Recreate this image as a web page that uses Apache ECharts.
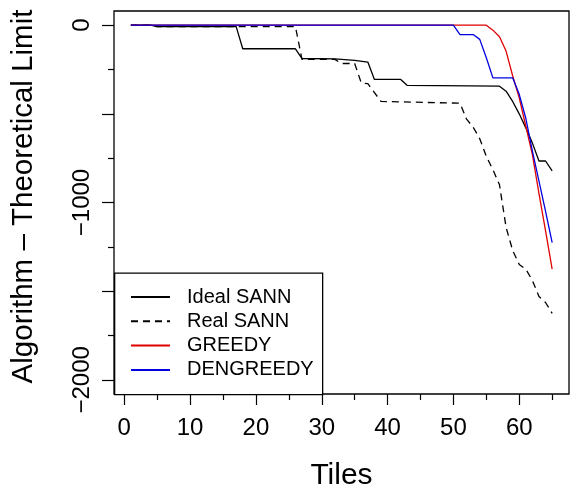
<!DOCTYPE html>
<html>
<head>
<meta charset="utf-8">
<script src="https://cdn.jsdelivr.net/npm/echarts@6/dist/echarts.min.js"></script>
<style>
html,body{margin:0;padding:0;background:#fff;}
#chart{width:578px;height:489px;}
</style>
</head>
<body>
<div id="chart"></div>
<script>
// ---- data ----
const seriesNames = ['Ideal SANN', 'Real SANN', 'GREEDY', 'DENGREEDY'];

const idealTiles = [1, 4, 5, 17, 18, 26, 27, 32, 35, 37, 38, 42, 43, 57, 58, 59, 60, 61, 62, 63, 64, 65];
const idealVals  = [0, 0, -8, -8, -133, -133, -188, -190, -199, -208, -306, -306, -340, -344, -372, -430, -500, -579, -665, -766, -766, -822];

const realTiles = [1, 4, 5, 26, 27, 32, 33, 35, 36, 37, 39, 51, 52, 53, 54, 55, 56, 57, 58, 59, 60, 61, 62, 63, 64, 65];
const realVals  = [0, 0, -8, -8, -193, -193, -216, -216, -325, -330, -430, -440, -530, -575, -640, -740, -815, -900, -1140, -1270, -1350, -1376, -1440, -1530, -1564, -1625];

const greedyTiles = [1, 55, 56, 57, 58, 59, 60, 61, 62, 63, 64, 65];
const greedyVals  = [0, 0, -28, -65, -146, -285, -410, -570, -730, -950, -1160, -1376];

const dengreedyTiles = [1, 50, 51, 53, 54, 55, 56, 59, 60, 61, 62, 63, 64, 65];
const dengreedyVals  = [0, 0, -53, -53, -80, -184, -297, -297, -390, -525, -710, -880, -1050, -1226];

const xMajorTicks = [0, 10, 20, 30, 40, 50, 60];
const xMinorTicks = [5, 15, 25, 35, 45, 55, 65];
const yLabelTicks = [-2000, -1000, 0];
const yMajorTicks = [-2000, -1500, -1000, -500, 0];
const yMinorTicks = [-1750, -1250, -750, -250];

const xTitle = 'Tiles';
const yTitle = 'Algorithm \u2013 Theoretical Limit';

// ---- chart ----
function pairs(xs, ys) { return xs.map((x, i) => [x, ys[i]]); }

const FONT = 'Liberation Sans, Arial, Helvetica, sans-serif';
const chart = echarts.init(document.getElementById('chart'), null, {renderer: 'canvas'});

const X_MIN = -1.56, X_MAX = 67.56, Y_MIN = -2080, Y_MAX = 80;
const GRID = {left: 114, top: 11, width: 455, height: 383, outerBoundsMode: 'none', containLabel: false};

const lineCommon = {type: 'line', symbol: 'none', showSymbol: false, animation: false, xAxisIndex: 0, yAxisIndex: 0};
const tickLine = {color: '#000', width: 1.2};

const option = {
  animation: false,
  backgroundColor: '#ffffff',
  grid: [
    Object.assign({show: true, borderColor: '#000', borderWidth: 1.3, backgroundColor: 'transparent'}, GRID),
    Object.assign({show: false}, GRID)
  ],
  xAxis: [
    {
      type: 'value', gridIndex: 0, min: X_MIN, max: X_MAX, position: 'bottom',
      name: xTitle, nameLocation: 'middle', nameGap: 67,
      nameTextStyle: {fontFamily: FONT, fontSize: 30, color: '#000'},
      axisLine: {show: false, onZero: false},
      splitLine: {show: false},
      axisTick: {show: true, customValues: xMajorTicks, length: 11, lineStyle: tickLine},
      axisLabel: {show: true, customValues: xMajorTicks, showMinLabel: true, showMaxLabel: true, hideOverlap: false, fontFamily: FONT, fontSize: 24, color: '#000', margin: 22}
    },
    {
      type: 'value', gridIndex: 1, min: X_MIN, max: X_MAX, position: 'bottom',
      axisLine: {show: false, onZero: false}, splitLine: {show: false},
      axisTick: {show: true, customValues: xMinorTicks, length: 6, lineStyle: tickLine},
      axisLabel: {show: false}
    }
  ],
  yAxis: [
    {
      type: 'value', gridIndex: 0, min: Y_MIN, max: Y_MAX, position: 'left',
      name: yTitle, nameLocation: 'middle', nameGap: 75,
      nameTextStyle: {fontFamily: FONT, fontSize: 29.5, color: '#000', padding: [0, 0, 0, 12]},
      axisLine: {show: false, onZero: false}, splitLine: {show: false},
      axisTick: {show: true, customValues: yMajorTicks, length: 12, lineStyle: tickLine},
      axisLabel: {
        show: true, customValues: yLabelTicks, rotate: 90, showMinLabel: true, showMaxLabel: true, hideOverlap: false,
        fontFamily: FONT, fontSize: 24, color: '#000', margin: 20,
        formatter: v => (v < 0 ? '\u2212' + Math.abs(v) : String(v))
      }
    },
    {
      type: 'value', gridIndex: 1, min: Y_MIN, max: Y_MAX, position: 'left',
      axisLine: {show: false, onZero: false}, splitLine: {show: false},
      axisTick: {show: true, customValues: yMinorTicks, length: 6, lineStyle: tickLine},
      axisLabel: {show: false}
    }
  ],
  legend: {
    orient: 'vertical', left: 130, top: 287, itemWidth: 39, itemHeight: 14, itemGap: 4.3,
    data: seriesNames,
    itemStyle: {opacity: 0},
    textStyle: {fontFamily: FONT, fontSize: 20, color: '#000', lineHeight: 20, padding: [0, 0, 0, 12]},
    padding: 0
  },
  graphic: [
    {type: 'rect', left: 114, top: 272.5, shape: {width: 208, height: 121.5}, style: {fill: '#fff', stroke: '#000', lineWidth: 1.3}, z: 3}
  ],
  series: [
    Object.assign({}, lineCommon, {name: seriesNames[0], data: pairs(idealTiles, idealVals), lineStyle: {color: '#000', width: 1.3}, itemStyle: {color: '#000'}}),
    Object.assign({}, lineCommon, {name: seriesNames[1], data: pairs(realTiles, realVals), lineStyle: {color: '#000', width: 1.3, type: [7, 5]}, itemStyle: {color: '#000'}}),
    Object.assign({}, lineCommon, {name: seriesNames[2], data: pairs(greedyTiles, greedyVals), lineStyle: {color: '#e00000', width: 1.3}, itemStyle: {color: '#e00000'}}),
    Object.assign({}, lineCommon, {name: seriesNames[3], data: pairs(dengreedyTiles, dengreedyVals), lineStyle: {color: '#0000e0', width: 1.3}, itemStyle: {color: '#0000e0'}})
  ]
};
chart.setOption(option);
</script>
</body>
</html>
